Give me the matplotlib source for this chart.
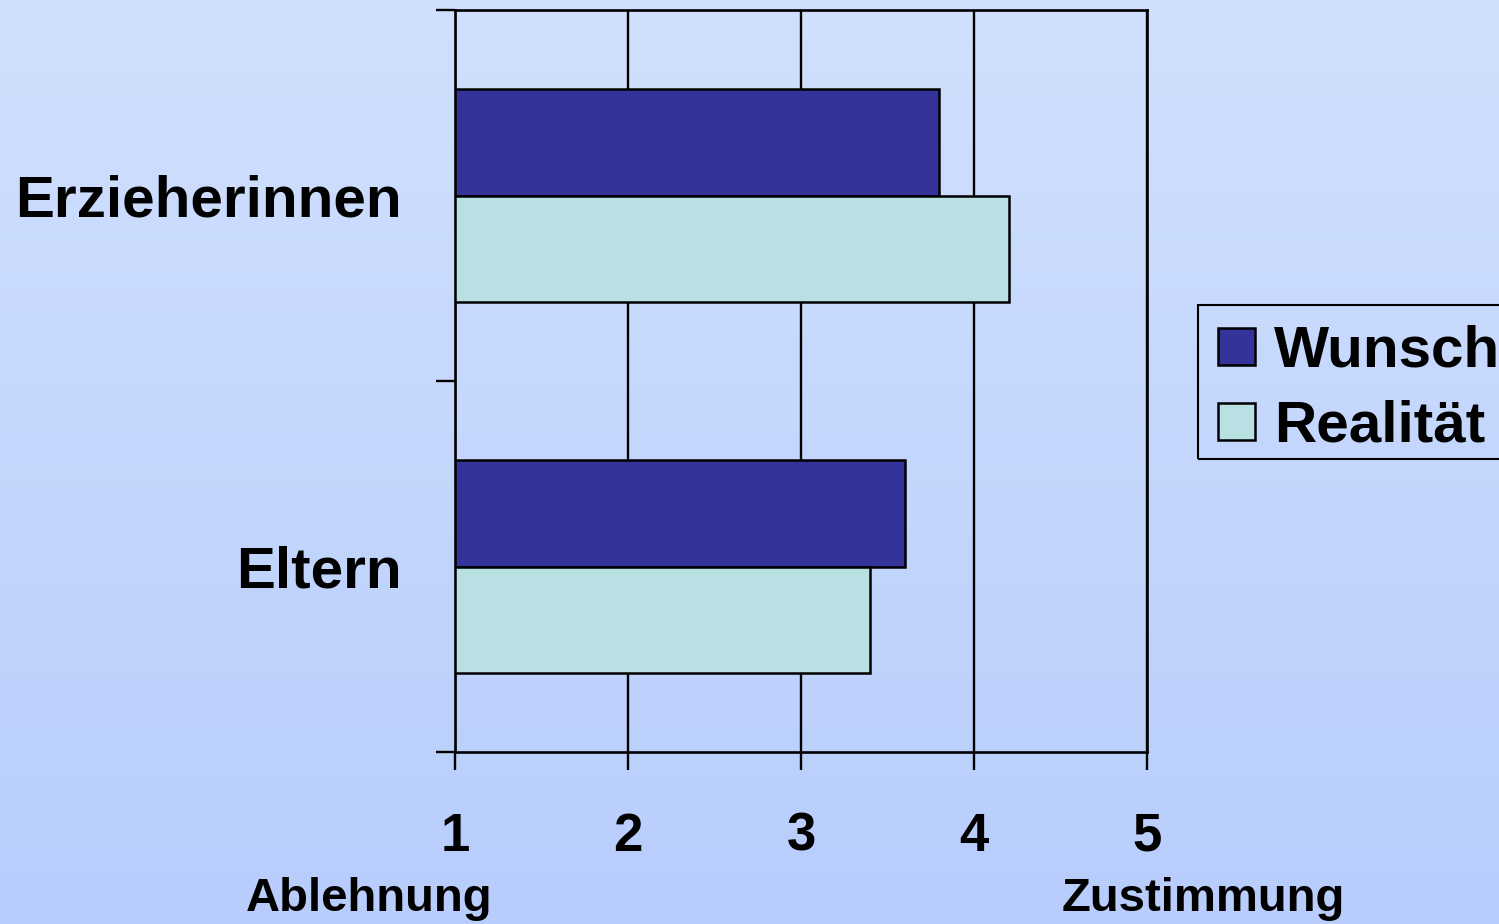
import numpy as np
import matplotlib
matplotlib.use('Agg')
from matplotlib import pyplot as plt
from matplotlib.patches import Rectangle

# data
categories = ['Eltern', 'Erzieherinnen']
wunsch = [3.6, 3.8]
realitaet = [3.4, 4.2]
series_names = ['Wunsch', 'Realität']
xticks = [1, 2, 3, 4, 5]

col_wunsch = '#333399'
col_real = '#b9e0e3'

plt.rcParams['font.family'] = ['Liberation Sans', 'DejaVu Sans']
plt.rcParams['font.weight'] = 'bold'

fig = plt.figure(figsize=(14.99, 9.24), dpi=100)

# background gradient
bg = fig.add_axes([0, 0, 1, 1], zorder=-10)
top = np.array([208, 224, 254]) / 255.
bot = np.array([184, 205, 252]) / 255.
t = np.linspace(0, 1, 256)[:, None, None]
grad = top * (1 - t) + bot * t
grad = np.repeat(grad, 2, axis=1)
bg.imshow(grad, aspect='auto', extent=[0, 1, 0, 1])
bg.axis('off')

ax = fig.add_axes([455/1499, 1 - 752/924, (1147 - 455)/1499, (752 - 10)/924])
ax.patch.set_alpha(0)

y = np.arange(len(categories))
h = 0.286
base = 1
ax.barh(y, np.array(wunsch) - base, left=base, height=h, align='edge',
        color=col_wunsch, edgecolor='black', linewidth=1.8, label=series_names[0], zorder=3)
ax.barh(y - h, np.array(realitaet) - base, left=base, height=h, align='edge',
        color=col_real, edgecolor='black', linewidth=1.8, label=series_names[1], zorder=3)

ax.set_xlim(1, 5)
ax.set_ylim(-0.5, 1.5)
ax.set_xticks(xticks)
ax.set_xticklabels([str(v) for v in xticks], fontsize=38, fontweight='bold')
ax.set_yticks(y)
ax.set_yticklabels(categories, fontsize=42, fontweight='bold')
ax.set_yticks([-0.5, 0.5, 1.5], minor=True)
ax.tick_params(axis='y', which='major', length=0, pad=38)
ax.tick_params(axis='y', which='minor', length=14, width=1.7, direction='out')
ax.tick_params(axis='x', which='major', length=13, width=1.7, direction='out', pad=30)
ax.grid(axis='x', color='black', linewidth=1.7)
ax.set_axisbelow(True)
for s in ax.spines.values():
    s.set_linewidth(1.9)

fig.text(369/1499, 1 - 911/924, 'Ablehnung', fontsize=34, fontweight='bold',
         ha='center', va='baseline')
fig.text(1203/1499, 1 - 911/924, 'Zustimmung', fontsize=34, fontweight='bold',
         ha='center', va='baseline')

leg = ax.legend(loc='upper left', bbox_to_anchor=(1198/1499, 1 - 305/924),
                bbox_transform=fig.transFigure, borderaxespad=0,
                frameon=False,
                prop={'size': 42, 'weight': 'bold'}, handlelength=0.64,
                handleheight=0.6, handletextpad=0.33, borderpad=0.34,
                labelspacing=0.36)
# legend frame (clipped at right edge like the original)
fig.patches.append(Rectangle((1198/1499, 1 - 459/924), 0.3, 154/924,
                             transform=fig.transFigure, fill=False,
                             edgecolor='black', linewidth=1.5))

fig.savefig('out.png', dpi=100)
